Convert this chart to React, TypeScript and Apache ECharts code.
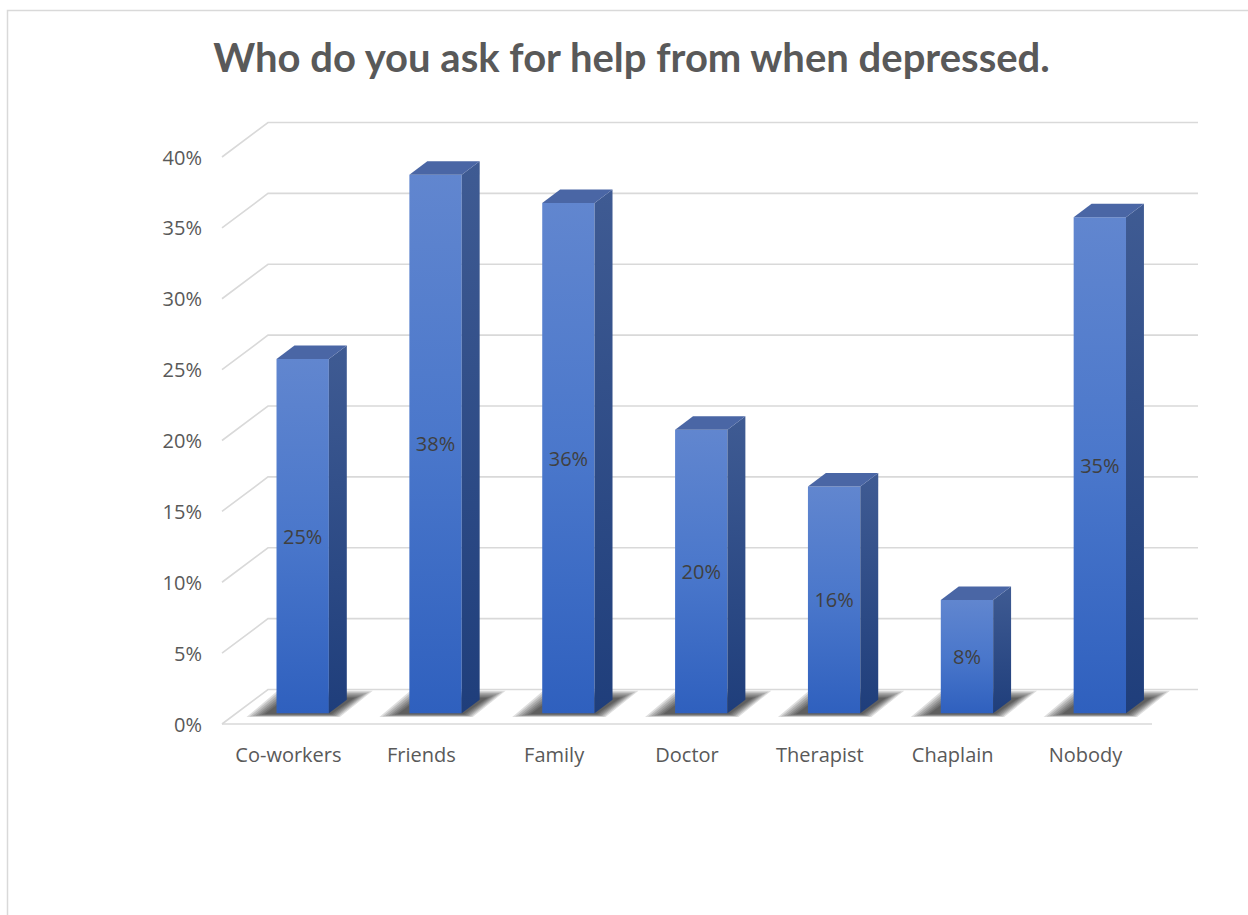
import React, { useEffect, useRef } from "react";
import * as echarts from "echarts";

// Survey answers: share of respondents naming each source of help
const categories = ["Co-workers", "Friends", "Family", "Doctor", "Therapist", "Chaplain", "Nobody"];
const shares = [25, 38, 36, 20, 16, 8, 35];
const valueTicks = [0, 5, 10, 15, 20, 25, 30, 35, 40];

const TITLE = "Who do you ask for help from when depressed.";

// Oblique projection of the chart box depth (back wall offset from the front plane)
const DEPTH_X = 46;
const DEPTH_Y = 34.5;
// Bars sit between these fractions of the floor depth
const BAR_NEAR = 0.31;
const BAR_FAR = 0.7;
const BAR_WIDTH_RATIO = 0.394;
// Soft floor shadow built from stacked translucent layers
const SHADOW_LAYERS = 7;
const SHADOW_STEP = 3;

const GRID_COLOR = "#d9d9d9";
const LABEL_COLOR = "#595959";
const FONT = "'Open Sans', 'Noto Sans', sans-serif";

export default function App() {
  const ref = useRef<HTMLDivElement>(null);

  useEffect(() => {
    if (!ref.current) return;
    const chart = echarts.init(ref.current, null, { renderer: "svg" });

    const wallRender = (params: any, api: any) => {
      const cs = params.coordSys;
      const t = api.value(1);
      const y = api.coord([0, t])[1];
      const children: any[] = [
        {
          type: "polyline",
          shape: {
            points: [
              [cs.x, y],
              [cs.x + DEPTH_X, y - DEPTH_Y],
              [cs.x + cs.width + DEPTH_X, y - DEPTH_Y],
            ],
          },
          style: { stroke: GRID_COLOR, lineWidth: 1.6, fill: null },
        },
      ];
      if (t === 0) {
        children.push({
          type: "line",
          shape: { x1: cs.x, y1: y, x2: cs.x + cs.width, y2: y },
          style: { stroke: GRID_COLOR, lineWidth: 1.6 },
        });
      }
      return { type: "group", children };
    };

    const barRender = (params: any, api: any) => {
      const i = api.value(0);
      const v = api.value(1);
      const base = api.coord([i, 0]);
      const top = api.coord([i, v]);
      const band = api.size([1, 0])[0];
      const half = (band * BAR_WIDTH_RATIO) / 2;
      const cx = base[0] + DEPTH_X * BAR_NEAR;
      const yb = base[1] - DEPTH_Y * BAR_NEAR;
      const yt = top[1] - DEPTH_Y * BAR_NEAR;
      const xl = cx - half;
      const xr = cx + half;
      const dx = DEPTH_X * (BAR_FAR - BAR_NEAR);
      const dy = DEPTH_Y * (BAR_FAR - BAR_NEAR);

      const shadow: any[] = [];
      for (let k = 0; k < SHADOW_LAYERS; k++) {
        const e = (SHADOW_LAYERS - 1 - k) * SHADOW_STEP;
        shadow.push({
          type: "polygon",
          shape: {
            points: [
              [xl - 12 - e, yb + 1 + e * 0.15],
              [xr + 2 + e * 0.5, yb + 1 + e * 0.15],
              [xr + dx + 8 + e, yb - dy - 2 - e * 0.4],
              [xl + dx - 8 - e * 0.5, yb - dy - 2 - e * 0.4],
            ],
          },
          style: { fill: "rgba(0,0,0,0.13)" },
        });
      }

      return {
        type: "group",
        children: [
          ...shadow,
          // front face
          {
            type: "polygon",
            shape: { points: [[xl, yt], [xr, yt], [xr, yb], [xl, yb]] },
            style: {
              fill: new echarts.graphic.LinearGradient(0, 0, 0, 1, [
                { offset: 0, color: "#6186cf" },
                { offset: 0.5, color: "#4a77cb" },
                { offset: 1, color: "#2f60be" },
              ]),
            },
          },
          // right side face
          {
            type: "polygon",
            shape: { points: [[xr, yt], [xr + dx, yt - dy], [xr + dx, yb - dy], [xr, yb]] },
            style: {
              fill: new echarts.graphic.LinearGradient(0, 0, 0, 1, [
                { offset: 0, color: "#3f5b93" },
                { offset: 1, color: "#1f3e7b" },
              ]),
            },
          },
          // top face
          {
            type: "polygon",
            shape: { points: [[xl, yt], [xr, yt], [xr + dx, yt - dy], [xl + dx, yt - dy]] },
            style: { fill: "#4a66a5" },
          },
          // value label in the middle of the front face
          {
            type: "text",
            x: cx,
            y: (yt + yb) / 2,
            style: {
              text: v + "%",
              align: "center",
              verticalAlign: "middle",
              textAlign: "center",
              textVerticalAlign: "middle",
              fill: "#404040",
              fontSize: 20,
              fontFamily: FONT,
            },
          },
        ],
      };
    };

    chart.setOption({
      animation: false,
      backgroundColor: "#ffffff",
      grid: { left: 222, right: 96, top: 157, bottom: 191, containLabel: false },
      xAxis: {
        type: "category",
        data: categories,
        boundaryGap: true,
        axisLine: { show: false },
        axisTick: { show: false },
        splitLine: { show: false },
        axisLabel: { color: LABEL_COLOR, fontSize: 20, fontFamily: FONT, margin: 20, interval: 0 },
      },
      yAxis: {
        type: "value",
        min: 0,
        max: 40,
        interval: 5,
        axisLine: { show: false },
        axisTick: { show: false },
        splitLine: { show: false },
        axisLabel: { color: LABEL_COLOR, fontSize: 20, fontFamily: FONT, margin: 20, formatter: "{value}%" },
      },
      graphic: [
        {
          type: "rect",
          shape: { x: 7.5, y: 10.5, width: 1300, height: 960 },
          style: { fill: null, stroke: GRID_COLOR, lineWidth: 1.5 },
          silent: true,
          z: -10,
        },
        {
          type: "text",
          x: 631.5,
          y: 57,
          style: {
            text: TITLE,
            align: "center",
            verticalAlign: "middle",
            textAlign: "center",
            textVerticalAlign: "middle",
            fill: LABEL_COLOR,
            fontSize: 40,
            fontWeight: "bold",
            fontFamily: "Lato, 'Open Sans', sans-serif",
          },
        },
      ],
      series: [
        {
          type: "custom",
          renderItem: wallRender,
          data: valueTicks.map((t) => [0, t]),
          silent: true,
          z: 1,
        },
        {
          type: "custom",
          renderItem: barRender,
          data: shares.map((v, i) => [i, v]),
          z: 2,
        },
      ],
    });

    return () => chart.dispose();
  }, []);

  return (
    <div
      ref={ref}
      style={{ position: "absolute", left: 0, top: 0, width: 1248, height: 915 }}
    />
  );
}
